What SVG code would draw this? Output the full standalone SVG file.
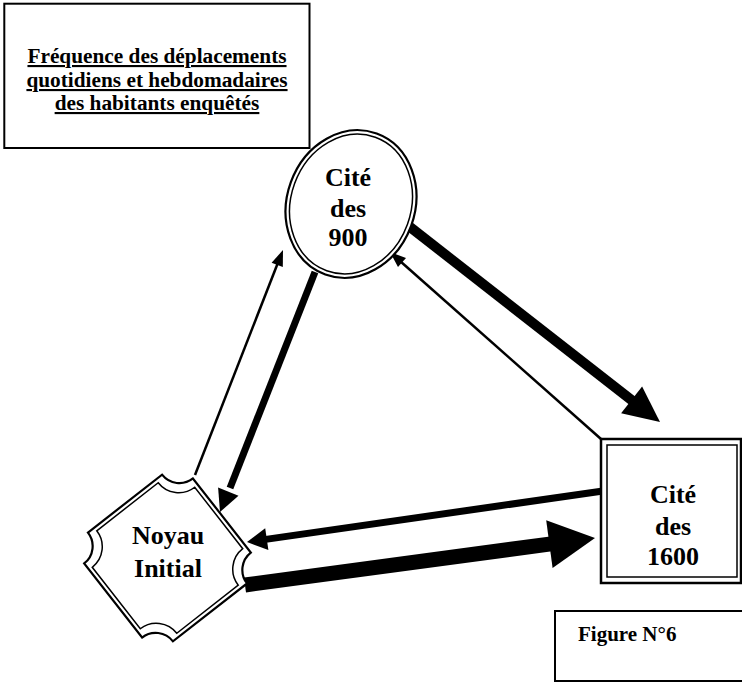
<svg xmlns="http://www.w3.org/2000/svg" width="742" height="684" viewBox="0 0 742 684">
<style>
text{font-family:'Liberation Serif','Times New Roman','DejaVu Serif',serif;font-weight:700;fill:#000;text-anchor:middle}
.ul{text-decoration:underline;text-decoration-thickness:2px;text-underline-offset:3px}
.ln{fill:none;stroke:#000;stroke-linecap:butt}
.hd{fill:#000;stroke:none}
.o{fill:#fff;stroke:#000}
</style>
<rect width="742" height="684" fill="#fff"/>
<g id="title">
<rect x="4.3" y="3.7" width="305.2" height="144.3" fill="#fff" stroke="#000" stroke-width="2"/>
<text class="ul" font-size="21.3"><tspan x="157" y="63">Fréquence des déplacements</tspan><tspan x="157" y="87">quotidiens et hebdomadaires</tspan><tspan x="157" y="110">des habitants enquêtés</tspan></text>
</g>
<g id="connectors">
<line class="ln" x1="410" y1="227" x2="634" y2="402" stroke-width="10"/>
<path class="hd" d="M660,422 L621.1,413.3 L642.1,386.5 Z"/>
<line class="ln" x1="601" y1="439" x2="400" y2="261" stroke-width="2.5"/>
<path class="hd" d="M390,252 L406,258.1 L398,267.1 Z"/>
<line class="ln" x1="195" y1="475" x2="279" y2="260" stroke-width="2.5"/>
<path class="hd" d="M283,250 L282.8,267.1 L271.6,262.7 Z"/>
<line class="ln" x1="315" y1="272" x2="230" y2="488" stroke-width="7"/>
<path class="hd" d="M220,512 L238.5,495.8 L218.1,487.4 Z"/>
<line class="ln" x1="603" y1="491" x2="264" y2="539.6" stroke-width="7"/>
<path class="hd" d="M247,542 L268.4,550.1 L265.2,528.3 Z"/>
<line class="ln" x1="245" y1="585" x2="553" y2="543.6" stroke-width="15"/>
<path class="hd" d="M595,538 L552.6,567.9 L546.2,520.3 Z"/>
</g>
<g id="cite900">
<g transform="translate(351,204) rotate(20)">
<ellipse class="o" cx="0" cy="0" rx="64" ry="75" stroke-width="2.2"/>
<ellipse fill="none" stroke="#000" cx="0" cy="0" rx="60" ry="71" stroke-width="1.5"/>
</g>
<text font-size="26"><tspan x="348" y="186">Cité</tspan><tspan x="348" y="217">des</tspan><tspan x="348" y="246">900</tspan></text>
</g>
<g id="noyau">
<g transform="translate(167.5,558) rotate(-38)">
<path class="o" stroke-width="2.2" d="M-47,-69 L47,-69 A22 22 0 0 0 69,-47 L69,47 A22 22 0 0 0 47,69 L-47,69 A22 22 0 0 0 -69,47 L-69,-47 A22 22 0 0 0 -47,-69 Z"/>
<path fill="none" stroke="#000" stroke-width="1.5" d="M-39,-65 L39,-65 A26 26 0 0 0 65,-39 L65,39 A26 26 0 0 0 39,65 L-39,65 A26 26 0 0 0 -65,39 L-65,-39 A26 26 0 0 0 -39,-65 Z"/>
</g>
<text font-size="26"><tspan x="168" y="544">Noyau</tspan><tspan x="168" y="577">Initial</tspan></text>
</g>
<g id="cite1600">
<rect class="o" x="601" y="439" width="140" height="144" stroke-width="2.5"/>
<rect fill="none" stroke="#000" x="607" y="445" width="130" height="132" stroke-width="1.5"/>
<text font-size="26"><tspan x="673" y="503">Cité</tspan><tspan x="673" y="535">des</tspan><tspan x="673" y="565">1600</tspan></text>
</g>
<g id="figure">
<rect x="555" y="611" width="200" height="70" fill="#fff" stroke="#000" stroke-width="2"/>
<text font-size="21" style="text-anchor:start" x="578" y="641">Figure N°6</text>
</g>
</svg>
